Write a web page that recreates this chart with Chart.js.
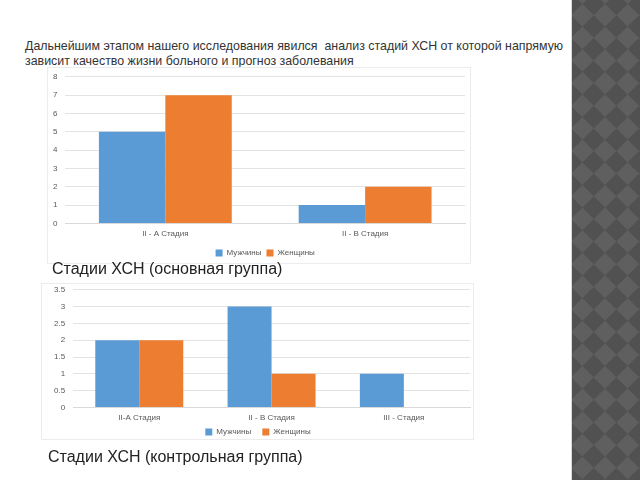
<!DOCTYPE html>
<html>
<head>
<meta charset="utf-8">
<script src="https://cdn.jsdelivr.net/npm/chart.js@4"></script>
<style>
  body { margin: 0; width: 640px; height: 480px; background: #fff; position: relative; overflow: hidden; font-family: "Liberation Sans", Arial, sans-serif; }
  .title { position: absolute; left: 25px; top: 39px; font-size: 12.4px; line-height: 15px; color: #333; width: 560px; }
  .card { position: absolute; background: #fff; border: 1px solid #ececec; }
  .box { position: absolute; }
  .cap { position: absolute; font-size: 16px; color: #222; }
  .strip { position: absolute; left: 571px; top: 0; width: 69px; height: 480px; overflow: hidden; background: #585858; border-left: 1px solid #d8d8d8; }
  .strip div { position: absolute; left: -200px; top: -200px; width: 500px; height: 900px; transform: rotate(45deg);
    background: repeating-conic-gradient(#515151 0 25%, #5f5f5f 0 50%) 0 0 / 32px 32px; }
</style>
</head>
<body>
<div class="title">Дальнейшим этапом нашего исследования явился&nbsp; анализ стадий ХСН от которой напрямую зависит качество жизни больного и прогноз заболевания</div>

<div class="card" style="left:47px; top:67px; width:422px; height:195px;"></div>
<div class="box" style="left:41px; top:64px; width:429px; height:203px;"><canvas id="c1"></canvas></div>
<div class="cap" style="left:52px; top:260px;">Стадии ХСН (основная группа)</div>

<div class="card" style="left:41px; top:283px; width:431px; height:155px;"></div>
<div class="box" style="left:38px; top:277px; width:434px; height:169px;"><canvas id="c2"></canvas></div>
<div class="cap" style="left:48px; top:448px;">Стадии ХСН (контрольная группа)</div>

<div class="strip"><div></div></div>

<script>
// основная группа
const cats1 = ['II - A Стадия', 'II - B Стадия'];
const men1 = [5, 1];
const women1 = [7, 2];

// контрольная группа
const cats2 = ['II-A Стадия', 'II - B Стадия', 'III - Стадия'];
const men2 = [2, 3, 1];
const women2 = [2, 1, 0];

const BLUE = '#5b9bd5';
const ORANGE = '#ed7d31';

// cfg: layout padding, legend padding, extra gap after first legend text, legend over plot only
function makeChart(id, labels, men, women, max, step, cfg) {
    return new Chart(document.getElementById(id), {
        type: 'bar',
        data: {
            labels: labels,
            datasets: [
                { label: 'Мужчины', data: men, backgroundColor: BLUE },
                { label: 'Женщины', data: women, backgroundColor: ORANGE }
            ]
        },
        options: {
            responsive: true,
            maintainAspectRatio: false,
            animation: false,
            layout: { padding: cfg.pad },
            datasets: { bar: { categoryPercentage: 0.665, barPercentage: 1 } },
            plugins: {
                legend: {
                    position: 'bottom',
                    fullSize: cfg.fullSize,
                    labels: {
                        boxWidth: 7, boxHeight: 7, padding: cfg.legendPad, color: '#595959', font: { size: 8 },
                        generateLabels: chart => Chart.defaults.plugins.legend.labels.generateLabels(chart)
                            .map((l, i) => Object.assign(l, { text: i === 0 ? l.text + cfg.gap : l.text }))
                    }
                },
                tooltip: { enabled: false }
            },
            scales: {
                x: {
                    grid: { display: false, drawTicks: false },
                    border: { color: '#d9d9d9' },
                    ticks: { color: '#595959', font: { size: 8 }, padding: 6 },
                    afterFit: s => { s.height -= 1; }
                },
                y: {
                    min: 0, max: max,
                    ticks: { stepSize: step, color: '#595959', font: { size: 8 }, padding: 8,
                             callback: v => String(v) },
                    grid: { color: '#e3e3e3', drawTicks: false },
                    border: { display: false }
                }
            }
        }
    });
}

makeChart('c1', cats1, men1, women1, 8, 1,
    { pad: { left: 4, right: 5, top: 0, bottom: 0 }, legendPad: 5, gap: '', fullSize: false });
makeChart('c2', cats2, men2, women2, 3.5, 0.5,
    { pad: { left: 8, right: 2, top: 0, bottom: 0 }, legendPad: 0, gap: '     ', fullSize: true });
</script>
</body>
</html>
